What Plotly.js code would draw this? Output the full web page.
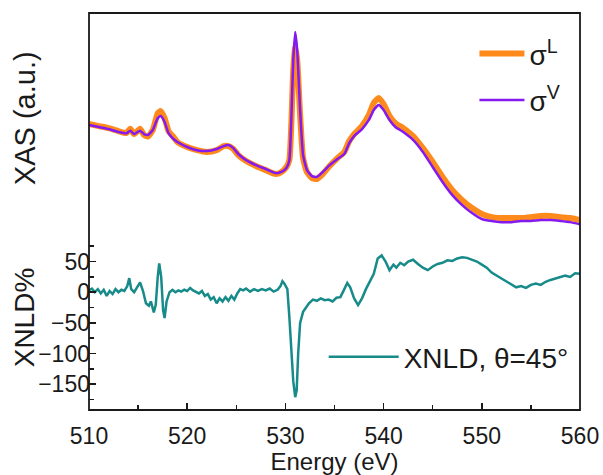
<!DOCTYPE html>
<html>
<head>
<meta charset="utf-8">
<script src="https://cdn.plot.ly/plotly-3.0.1.min.js"></script>
<style>html,body{margin:0;padding:0;background:#fff;}#chart{width:603px;height:475px;}</style>
</head>
<body>
<div id="chart"></div>
<script>
// XAS energies (eV)
const energyXAS = [510.0,511.0,512.0,513.0,513.8,514.2,514.6,515.2,515.6,516.0,516.5,517.0,517.3,517.7,518.1,518.6,519.0,520.0,521.0,522.0,523.0,523.7,524.2,524.7,525.2,526.0,527.0,528.0,529.0,529.6,530.1,530.4,530.6,530.8,531.0,531.2,531.5,531.8,532.2,532.7,533.2,533.8,534.5,535.3,536.0,536.5,537.0,537.8,538.5,539.0,539.5,540.0,540.6,541.2,542.0,543.0,544.0,545.0,546.0,547.0,548.0,549.0,550.0,551.0,552.0,553.0,554.0,555.0,556.0,557.0,558.0,559.0,560.0];
// sigma^L (a.u.)
const sigmaL = [0.511,0.502,0.493,0.480,0.471,0.490,0.467,0.490,0.463,0.456,0.485,0.559,0.568,0.537,0.480,0.454,0.432,0.410,0.396,0.388,0.396,0.414,0.414,0.401,0.374,0.348,0.326,0.308,0.291,0.300,0.322,0.352,0.507,0.749,0.850,0.793,0.551,0.361,0.299,0.273,0.269,0.291,0.326,0.361,0.388,0.436,0.467,0.502,0.551,0.604,0.626,0.599,0.546,0.515,0.493,0.458,0.405,0.344,0.278,0.220,0.176,0.141,0.115,0.101,0.097,0.097,0.097,0.101,0.106,0.106,0.101,0.097,0.088];
// sigma^V (a.u.)
const sigmaV = [0.507,0.498,0.489,0.476,0.470,0.482,0.467,0.482,0.467,0.463,0.485,0.537,0.546,0.520,0.471,0.445,0.432,0.410,0.396,0.392,0.401,0.414,0.419,0.405,0.379,0.352,0.330,0.313,0.295,0.300,0.317,0.352,0.529,0.793,0.916,0.837,0.573,0.374,0.308,0.282,0.278,0.300,0.330,0.357,0.379,0.427,0.458,0.489,0.529,0.573,0.595,0.573,0.529,0.498,0.476,0.441,0.388,0.322,0.256,0.198,0.154,0.119,0.093,0.084,0.079,0.079,0.084,0.084,0.088,0.088,0.084,0.079,0.070];
// XNLD energies (eV)
const energyXNLD = [510.0,510.3,510.6,510.9,511.2,511.5,511.8,512.1,512.4,512.7,513.0,513.3,513.6,513.9,514.1,514.3,514.6,514.9,515.2,515.5,515.8,516.1,516.3,516.6,516.8,517.0,517.15,517.35,517.55,517.7,517.9,518.2,518.5,518.8,519.1,519.4,519.7,520.0,520.3,520.6,520.9,521.2,521.5,521.8,522.1,522.4,522.7,523.0,523.3,523.6,523.9,524.2,524.5,524.8,525.1,525.4,525.7,526.0,526.4,526.8,527.2,527.6,528.0,528.4,528.8,529.2,529.5,529.7,529.9,530.2,530.4,530.6,530.8,531.0,531.15,531.3,531.5,531.8,532.1,532.4,532.8,533.2,533.6,534.0,534.4,534.8,535.2,535.6,536.0,536.3,536.6,537.0,537.4,537.8,538.2,538.6,539.0,539.4,539.8,540.2,540.6,541.0,541.3,541.7,542.1,542.5,543.0,543.5,544.0,544.5,545.0,545.5,546.0,546.5,547.0,547.5,548.0,548.5,549.0,549.5,550.0,550.5,551.0,551.5,552.0,552.5,553.0,553.5,554.0,554.5,555.0,555.5,556.0,556.5,557.0,557.5,558.0,558.5,559.0,559.5,560.0];
// XNLD (%)
const xnld = [3,6,0,5,-2,4,-6,2,-3,5,0,4,2,10,23,5,0,8,16,2,-18,-22,-15,-33,-20,25,47,25,-30,-42,-15,0,4,0,3,1,4,2,7,3,0,-2,2,-6,-3,-12,-8,-18,-10,-15,-8,-14,-6,-12,-2,5,3,6,1,5,2,5,3,6,1,4,10,18,14,5,-40,-95,-145,-171,-160,-100,-50,-32,-25,-18,-12,-14,-10,-13,-12,-15,-9,-8,5,15,8,-10,-21,-10,5,18,30,55,60,50,36,45,40,48,44,50,53,46,40,36,42,46,48,52,51,55,57,56,53,50,45,40,32,27,22,17,12,8,10,7,12,14,12,17,20,22,24,27,25,31,30];

const xTickVals = [510,520,530,540,550,560];
const yTickVals = [-150,-100,-50,0,50];

const FONT = 'Liberation Sans, Arial, sans-serif';
const ink = '#1a1a1a';

const traces = [
  {x: energyXAS, y: sigmaL, type: 'scatter', mode: 'lines', name: 'σ<sup>L</sup>',
   line: {color: '#ff8a1c', width: 6, shape: 'spline', smoothing: 0.5}, xaxis: 'x', yaxis: 'y', legend: 'legend', legendgroup: 'a'},
  {x: energyXAS, y: sigmaV, type: 'scatter', mode: 'lines', name: 'σ<sup>V</sup>',
   line: {color: '#8419f0', width: 2.5, shape: 'spline', smoothing: 0.5}, xaxis: 'x', yaxis: 'y', legend: 'legend', legendgroup: 'b'},
  {x: energyXNLD, y: xnld, type: 'scatter', mode: 'lines', name: 'XNLD, θ=45°',
   line: {color: '#178a8a', width: 2.5}, xaxis: 'x', yaxis: 'y2', legend: 'legend2'}
];

const layout = {
  width: 603, height: 475,
  margin: {l: 89, r: 23, t: 13, b: 65},
  paper_bgcolor: '#fff', plot_bgcolor: '#fff',
  font: {family: FONT, color: ink, size: 23},
  showlegend: true,
  xaxis: {
    anchor: 'y2', range: [510, 560], tickvals: xTickVals, ticks: 'inside', ticklen: 7, tickwidth: 1.5,
    tickcolor: ink, showgrid: false, zeroline: false, showline: false, ticklabelstandoff: 10,
    tickfont: {size: 23, family: FONT, color: ink},
    minor: {dtick: 5, tick0: 510, ticks: 'inside', ticklen: 5, tickwidth: 1.5, tickcolor: ink, showgrid: false},
    title: {text: 'Energy (eV)', font: {size: 24, family: FONT, color: ink}, standoff: 2}
  },
  yaxis: {
    domain: [0.428, 1], anchor: 'x', range: [0, 1], showticklabels: false, ticks: '',
    showgrid: false, zeroline: false, showline: false
  },
  yaxis2: {
    domain: [0, 0.428], anchor: 'x', range: [-192, 85], tickvals: yTickVals, ticks: 'inside', ticklen: 7, tickwidth: 1.5,
    tickcolor: ink, showgrid: false, zeroline: false, showline: false, ticklabelstandoff: -2,
    tickfont: {size: 23, family: FONT, color: ink},
    minor: {dtick: 25, tick0: 0, ticks: 'inside', ticklen: 5, tickwidth: 1.5, tickcolor: ink, showgrid: false}
  },
  legend: {
    x: 0.785, y: 0.96, xanchor: 'left', yanchor: 'top', bgcolor: 'rgba(0,0,0,0)',
    font: {size: 28, family: FONT, color: ink}, itemwidth: 45, tracegroupgap: 7
  },
  legend2: {
    x: 0.478, y: 0.1335, xanchor: 'left', yanchor: 'middle', bgcolor: 'rgba(0,0,0,0)',
    font: {size: 28, family: FONT, color: ink}, itemwidth: 70
  },
  annotations: [
    {text: 'XAS (a.u.)', xref: 'paper', yref: 'paper', x: -0.130, y: 0.7355, textangle: -90,
     showarrow: false, xanchor: 'center', yanchor: 'middle', font: {size: 29, family: FONT, color: ink}},
    {text: 'XNLD%', xref: 'paper', yref: 'paper', x: -0.132, y: 0.234, textangle: -90,
     showarrow: false, xanchor: 'center', yanchor: 'middle', font: {size: 28, family: FONT, color: ink}}
  ],
  shapes: [
    {type: 'rect', xref: 'paper', yref: 'paper', x0: 0, x1: 1, y0: 0, y1: 1,
     line: {color: ink, width: 1.8}, fillcolor: 'rgba(0,0,0,0)', layer: 'above'}
  ]
};

Plotly.newPlot('chart', traces, layout, {displayModeBar: false, staticPlot: true});
</script>
</body>
</html>
